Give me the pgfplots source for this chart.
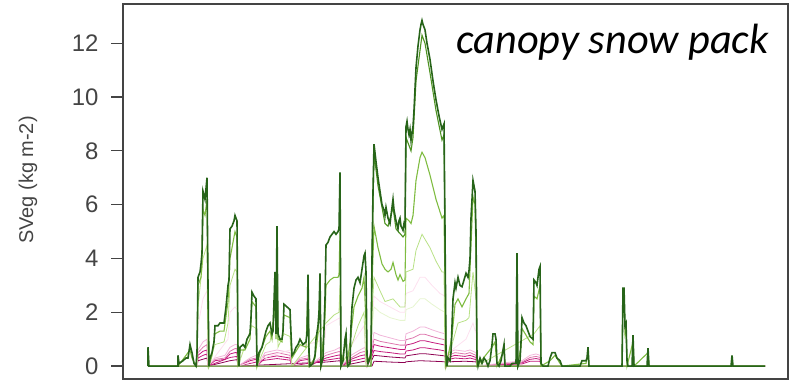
\documentclass[border=0pt]{standalone}
\usepackage{pgfplots}
\pgfplotsset{compat=1.18}
\usepackage{fontspec}
\setmainfont{Liberation Sans}
\newfontfamily\carlito{Carlito}
\definecolor{g1}{HTML}{276419}
\definecolor{g2}{HTML}{4D9221}
\definecolor{g3}{HTML}{7FBC41}
\definecolor{g4}{HTML}{B8E186}
\definecolor{g5}{HTML}{E6F5D0}
\definecolor{p5}{HTML}{FDE0EF}
\definecolor{p4}{HTML}{F1B6DA}
\definecolor{p3}{HTML}{DE77AE}
\definecolor{p2}{HTML}{C51B7D}
\definecolor{p1}{HTML}{8E0152}
\definecolor{frame}{HTML}{444444}
\begin{document}
\begin{tikzpicture}[x=1bp,y=1bp]
\useasboundingbox (0,0) rectangle (792,381);
\begin{axis}[
  at={(123bp,2bp)}, anchor=south west,
  scale only axis, width=665bp, height=375bp,
  xmin=123, xmax=788, ymin=-0.48, ymax=13.46,
  xtick=\empty,
  ytick={0,2,4,6,8,10,12},
  ytick pos=left,
  tick align=outside,
  major tick length=12bp,
  every tick/.style={frame, line width=1.2bp},
  axis line style={frame, line width=1.4bp},
  /pgf/number format/assume math mode=true,
  tick label style={font=\fontsize{24}{26}\selectfont, text=frame},
  yticklabel shift=9bp,
  clip=false,
]
% magenta / pink ensemble members
\addplot[p1, line width=0.8bp] coordinates {(148,0)(372,0)(374,0.18)(390,0.15)(405,0.13)(406,0.16)(420,0.2)(440,0.17)(445,0.16)(446,0)(765,0)};
\addplot[p1, line width=0.8bp] coordinates {(148,0)(197,0)(198,0.2)(207,0.3)(208,0)(230,0.2)(237,0.24)(238,0)(326,0.15)(340,0.2)(341,0)(372,0.24)(374,0.4)(390,0.34)(405,0.3)(406,0.38)(420,0.46)(425,0.46)(440,0.4)(445,0.38)(446,0)(448,0.16)(465,0.18)(476,0.16)(477,0)(765,0)};
\addplot[p2, line width=0.8bp] coordinates {(148,0)(197,0)(198,0.3)(203,0.4)(207,0.45)(208,0)(230,0.32)(237,0.36)(238,0)(265,0.22)(277,0.28)(290,0.22)(292,0)(326,0.22)(340,0.3)(341,0)(351,0.18)(365,0.3)(367,0)(372,0.36)(374,0.58)(380,0.54)(390,0.5)(400,0.45)(405,0.45)(406,0.56)(413,0.6)(420,0.68)(425,0.68)(432,0.64)(440,0.6)(445,0.56)(446,0)(448,0.24)(455,0.3)(465,0.27)(470,0.3)(476,0.24)(477,0)(522,0.08)(530,0.18)(540,0.18)(541,0)(765,0)};
\addplot[p2, line width=0.8bp] coordinates {(148,0)(197,0)(198,0.4)(203,0.55)(207,0.6)(208,0)(215,0.2)(225,0.25)(230,0.45)(235,0.5)(237,0.5)(238,0)(250,0.2)(256,0.25)(257,0)(265,0.3)(277,0.38)(290,0.3)(292,0)(300,0.2)(308,0.25)(309,0)(326,0.3)(335,0.38)(340,0.42)(341,0)(351,0.25)(360,0.38)(365,0.42)(367,0)(372,0.5)(374,0.8)(380,0.74)(390,0.68)(400,0.62)(405,0.62)(406,0.78)(413,0.84)(420,0.94)(425,0.94)(432,0.88)(440,0.82)(445,0.78)(446,0)(448,0.32)(455,0.4)(465,0.36)(470,0.4)(476,0.32)(477,0)(522,0.12)(530,0.25)(536,0.28)(540,0.25)(541,0)(765,0)};
\addplot[p3, line width=0.8bp] coordinates {(148,0)(197,0)(198,0.5)(203,0.7)(207,0.8)(208,0)(215,0.25)(225,0.3)(230,0.55)(235,0.65)(237,0.65)(238,0)(250,0.25)(256,0.3)(257,0)(265,0.4)(277,0.5)(290,0.4)(292,0)(300,0.25)(308,0.3)(309,0)(326,0.4)(335,0.5)(340,0.55)(341,0)(351,0.3)(360,0.5)(365,0.55)(367,0)(372,0.65)(374,1.0)(380,0.92)(390,0.85)(400,0.78)(405,0.78)(406,0.98)(413,1.05)(420,1.18)(425,1.18)(432,1.1)(440,1.02)(445,0.98)(446,0)(448,0.4)(455,0.5)(465,0.45)(470,0.5)(476,0.4)(477,0)(522,0.15)(530,0.32)(536,0.36)(540,0.32)(541,0)(765,0)};
\addplot[p4, line width=0.8bp] coordinates {(148,0)(197,0)(198,0.6)(203,0.9)(207,1.0)(208,0)(215,0.3)(225,0.4)(230,0.7)(235,0.8)(237,0.8)(238,0)(250,0.3)(256,0.4)(257,0)(265,0.5)(277,0.6)(290,0.5)(292,0)(300,0.3)(308,0.4)(309,0)(326,0.5)(335,0.6)(340,0.7)(341,0)(351,0.4)(360,0.6)(365,0.7)(367,0)(372,0.8)(374,1.25)(380,1.15)(390,1.05)(400,0.95)(405,0.95)(406,1.2)(413,1.3)(420,1.45)(425,1.45)(432,1.35)(440,1.25)(445,1.2)(446,0)(448,0.5)(455,0.6)(465,0.55)(470,0.6)(476,0.5)(477,0)(522,0.2)(530,0.4)(536,0.45)(540,0.4)(541,0)(765,0)};
\addplot[p5, line width=0.8bp] coordinates {(148,0)(197,0)(198,1.5)(203,2.5)(207,2.8)(208,0)(228,1.0)(230,2.0)(235,2.2)(237,2.1)(238,0)(325,1.0)(326,1.5)(340,1.8)(341,0)(352,0.8)(364,1.5)(366,0)(371,0)(372,1.5)(374,2.6)(380,2.4)(390,2.2)(400,2.0)(405,2.0)(406,2.7)(413,2.8)(420,3.3)(425,3.3)(432,3.0)(440,2.7)(445,2.6)(446,0)(452,0.6)(466,1.0)(473,1.6)(476,1.2)(477,0)(765,0)};
% pale greens
\addplot[g5, line width=0.8bp] coordinates {(148,0)(371,0)(372,1.4)(374,2.2)(380,2.0)(390,1.8)(400,1.7)(405,1.7)(406,2.1)(413,2.2)(420,2.5)(425,2.5)(432,2.3)(440,2.1)(445,2.0)(446,0)(765,0)};
\addplot[g4, line width=0.8bp] coordinates {(148,0)(197,0)(198,2.2)(203,4.0)(207,4.5)(208,0)(215,0.8)(224,0.9)(228,1.6)(230,3.0)(235,3.6)(237,3.5)(238,0)(252,1.5)(256,1.4)(257,0)(266,0.8)(270,0.9)(277,2.5)(278,0.7)(284,1.2)(290,1.1)(292,0)(326,1.6)(334,1.9)(339,2.0)(340,3.0)(341,0)(351,0.7)(358,1.5)(364,2.0)(366,0)(371,0)(372,2.0)(374,3.3)(380,2.8)(385,2.4)(393,2.5)(400,2.2)(405,2.2)(406,3.5)(413,3.6)(416,4.3)(422,4.9)(430,4.4)(436,3.9)(442,3.5)(444,3.5)(445,0)(452,0.8)(458,1.6)(466,1.7)(469,1.8)(473,3.5)(476,2.5)(477,0)(534,1.2)(540,1.5)(541,0)(765,0)};
% medium green
\addplot[g3, line width=1.1bp] coordinates {(148,0)(178,0)(190,0.6)(192,0.3)(196,0)(197,0.4)(198,3.0)(201,3.3)(202,3.8)(203,5.8)(205,5.6)(207,6.2)(208,2.5)(209,0)(212,0.4)(215,1.2)(220,1.3)(224,1.3)(228,2.4)(230,4.0)(234,4.8)(235,5.0)(237,4.8)(238,0)(240,0.6)(245,0.6)(250,1.0)(252,2.4)(256,2.2)(257,0)(260,0.5)(266,1.1)(270,1.3)(272,1.0)(275,2.8)(276,1.0)(277,4.5)(278,1.0)(282,0.9)(284,1.9)(290,1.8)(292,0.3)(300,0.8)(306,0.7)(308,2.8)(309,0)(315,0.3)(318,1.2)(320,2.8)(321,0)(325,1.8)(326,3.0)(330,3.2)(334,3.3)(338,3.3)(339,3.4)(340,5.0)(341,0)(345,0.8)(346,0.9)(347,0)(351,1.2)(354,2.2)(358,2.6)(362,2.9)(364,3.3)(366,1.6)(367,0.2)(371,0.4)(372,3.0)(374,5.2)(378,4.4)(382,3.8)(385,3.6)(388,3.5)(391,3.6)(393,3.85)(396,3.4)(398,3.2)(400,3.4)(403,3.15)(405,3.2)(406,5.5)(409,5.4)(411,5.3)(413,5.6)(416,6.9)(420,7.75)(422,7.95)(425,7.75)(430,7.1)(436,6.2)(442,5.5)(444,5.6)(445,3.0)(446,0)(452,1.1)(455,2.3)(458,2.5)(462,2.2)(466,2.5)(469,2.7)(471,4.5)(473,6.3)(475,6.0)(476,4.0)(477,0)(492,0.7)(495,0.9)(497,0)(503,0.5)(504,0.6)(505,0)(517,0)(521,0.7)(522,1.4)(530,0.9)(533,0.8)(534,2.6)(537,2.5)(540,3.0)(541,0)(550,0.2)(555,0.4)(560,0.1)(562,0)(586,0.1)(588,0.5)(589,0)(622,0)(623,2.6)(624,2.6)(625,1.2)(626,1.4)(627,0)(633,0.9)(634,0)(648,0.5)(649,0)(765,0)};
\addplot[g2, line width=1.1bp] coordinates {(148,0)(371,0)(372,4.0)(374,7.9)(378,6.7)(385,5.3)(388,5.2)(393,5.9)(396,5.1)(403,4.8)(405,4.9)(406,8.5)(409,8.2)(411,8.0)(413,8.5)(416,10.6)(422,12.3)(425,12.0)(430,10.9)(436,9.5)(442,8.4)(444,8.6)(445,4.8)(446,0)(765,0)};
% dark green
\addplot[g1, line width=1.6bp] coordinates {(148,0)(148,0.7)(149,0)(178,0)(178,0.4)(179,0.1)(183,0.2)(186,0.3)(188,0.3)(190,0.8)(192,0.5)(194,0.1)(196,0)(197,0.5)(198,3.3)(200,3.5)(201,3.8)(202,4.2)(203,6.5)(205,6.2)(206,6.6)(207,7.0)(208,3.0)(209,0)(210,0.3)(212,0.5)(214,0.9)(215,1.5)(218,1.5)(220,1.6)(224,1.6)(226,2.2)(228,3.0)(229,3.2)(230,5.1)(232,5.2)(234,5.4)(235,5.6)(237,5.4)(238,0.5)(239,0)(240,0.7)(243,0.8)(245,0.7)(247,1.0)(250,1.2)(251,1.8)(252,2.75)(254,2.6)(256,2.5)(257,0)(259,0.5)(262,0.7)(264,1.0)(266,1.3)(268,1.5)(270,1.6)(272,1.2)(273,1.3)(275,3.5)(276,1.2)(277,5.2)(278,1.2)(280,1.0)(282,1.0)(283,1.3)(284,2.3)(287,2.2)(290,2.1)(291,1.2)(292,0.4)(294,0.5)(296,0.7)(298,0.8)(300,1.0)(303,0.8)(306,0.9)(307,1.2)(308,3.4)(309,0.5)(310,0)(313,0.1)(315,0.4)(316,1.0)(318,1.5)(319,2.0)(320,3.45)(321,0)(323,0.3)(325,2.5)(326,4.5)(328,4.6)(330,4.8)(332,4.9)(334,5.0)(336,4.9)(338,5.0)(339,5.1)(340,7.2)(341,0)(343,0.2)(344,0.6)(345,1.0)(346,1.2)(347,0.3)(348,0)(350,0.1)(351,1.5)(352,2.2)(354,2.9)(356,3.2)(358,3.3)(360,3.1)(362,3.6)(364,4.1)(365,4.2)(366,3.5)(367,0.4)(368,0.1)(370,0.3)(371,0.5)(372,4.0)(373,6.5)(374,8.25)(376,7.6)(378,7.0)(380,6.5)(382,6.0)(384,5.8)(385,5.6)(386,5.9)(388,5.5)(390,5.3)(391,5.6)(393,6.2)(394,5.8)(396,5.4)(398,5.1)(399,5.4)(400,5.5)(401,5.2)(403,5.05)(404,5.3)(405,5.2)(406,8.9)(407,9.1)(408,8.8)(409,8.6)(410,8.8)(411,8.4)(413,8.9)(414,9.5)(416,11.1)(418,11.9)(420,12.5)(421,12.7)(422,12.85)(423,12.7)(425,12.5)(427,12.0)(430,11.4)(433,10.6)(436,9.9)(439,9.3)(442,8.8)(443,8.9)(444,9.0)(445,5.0)(446,0.5)(447,0)(448,0.3)(450,0.2)(451,0.5)(452,1.5)(453,2.5)(455,3.1)(456,2.9)(458,3.3)(460,3.0)(462,2.95)(464,3.2)(466,3.45)(468,3.3)(469,3.55)(470,4.0)(471,5.5)(473,6.9)(475,6.5)(476,5.0)(477,0.3)(478,0)(480,0.3)(482,0.1)(484,0.3)(486,0.2)(488,0)(490,0.2)(492,0.8)(493,1.2)(495,1.2)(496,1.0)(497,0.1)(499,0)(501,0.2)(503,0.6)(504,0.8)(505,0)(510,0)(512,0.1)(516,0.1)(517,4.2)(518,0)(520,0.2)(521,0.9)(522,1.8)(524,1.6)(526,1.5)(530,1.1)(533,1.0)(534,3.2)(536,3.1)(537,3.0)(539,3.6)(540,3.7)(541,0.1)(543,0)(548,0)(550,0.3)(552,0.5)(555,0.5)(557,0.3)(560,0.2)(562,0)(580,0)(582,0.2)(586,0.2)(587,0.3)(588,0.7)(589,0)(622,0)(623,2.9)(624,2.9)(625,1.5)(626,1.6)(627,0.2)(628,0)(632,0)(633,1.15)(634,0)(647,0)(648,0.67)(649,0)(731,0)(732,0.4)(733,0)(765,0)};
\end{axis}
\node[rotate=90, anchor=center, inner sep=0pt, text=frame, font=\fontsize{20}{22}\selectfont] at (28,201) {SVeg (kg m-2)};
\node[anchor=base west, inner sep=0pt, font=\carlito\itshape\fontsize{42.5}{45}\selectfont] at (456,328) {canopy snow pack};
\end{tikzpicture}
\end{document}
